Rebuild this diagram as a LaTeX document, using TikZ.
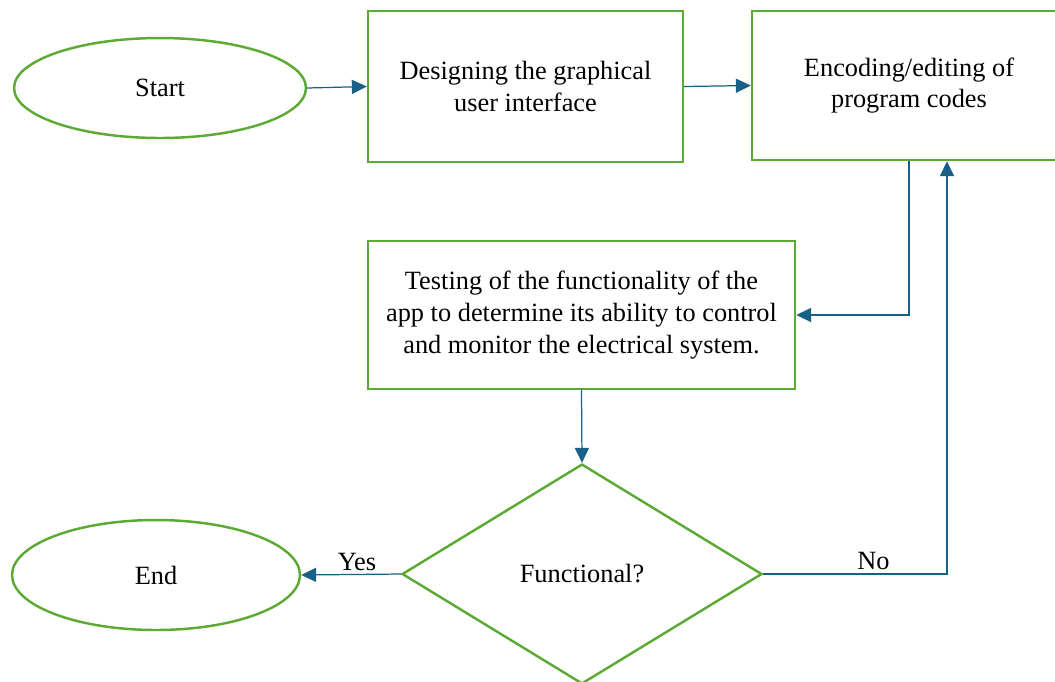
\documentclass[tikz,border=0pt]{standalone}
\usepackage{fontspec}
\setmainfont{Liberation Serif}
\usetikzlibrary{positioning,shapes.geometric,arrows.meta}
\definecolor{boxColor}{RGB}{92,170,52}
\definecolor{arrowColor}{RGB}{24,96,136}
\tikzstyle{flowchart} = [x = 0.02cm, y = -0.02cm, font=\fontsize{15}{18}\selectfont]
\tikzstyle{stepBox} = [draw=boxColor, line width=1.4pt, rectangle, align=center, inner sep=0pt]
\tikzstyle{terminal} = [draw=boxColor, line width=1.4pt, ellipse, inner sep=0pt]
\tikzstyle{decision} = [draw=boxColor, line width=1.4pt, diamond, inner sep=0pt]
\tikzstyle{flowArrow} = [color=arrowColor, line width=0.7pt, -{Triangle[length=8.5pt, width=8pt]}]
\tikzstyle{arrowLabel} = [text=black, above, inner sep=2pt]
\begin{document}
\begin{tikzpicture}[flowchart]
        \useasboundingbox (0,0) rectangle (1055,681);
        \clip (0,0) rectangle (1055,681);

        \node [terminal, minimum width=5.84cm, minimum height=2cm] (start) at (160,88) {Start};
        \node [stepBox, minimum width=6.3cm, minimum height=3.02cm] (designGui) at (525.5,86.5) {Designing the graphical\\user interface};
        \node [stepBox, minimum width=6.28cm, minimum height=2.98cm] (encodeCode) at (909,85.5) {Encoding/editing of\\program codes};
        \node [stepBox, minimum width=8.54cm, minimum height=2.96cm] (testApp) at (581.5,315) {Testing of the functionality of the\\app to determine its ability to control\\and monitor the electrical system.};
        \node [decision, minimum width=7.2cm, minimum height=4.4cm] (functional) at (582,574) {Functional?};
        \node [terminal, minimum width=5.76cm, minimum height=2.2cm] (end) at (156,575) {End};

        \draw [flowArrow] (start.east) -- (designGui.west);
        \draw [flowArrow] (designGui.east) -- (encodeCode.west);
        \draw [flowArrow] (encodeCode.south) |- (testApp.east);
        \draw [flowArrow] (testApp.south) -- (functional.north);
        \draw [flowArrow] (functional.west) -- node [arrowLabel, xshift=0.12cm] {Yes} (end.east);
        \draw [flowArrow] (functional.east) -| node [arrowLabel, pos=0.3] {No} ([xshift=0.76cm]encodeCode.south);
      \end{tikzpicture}
\end{document}
